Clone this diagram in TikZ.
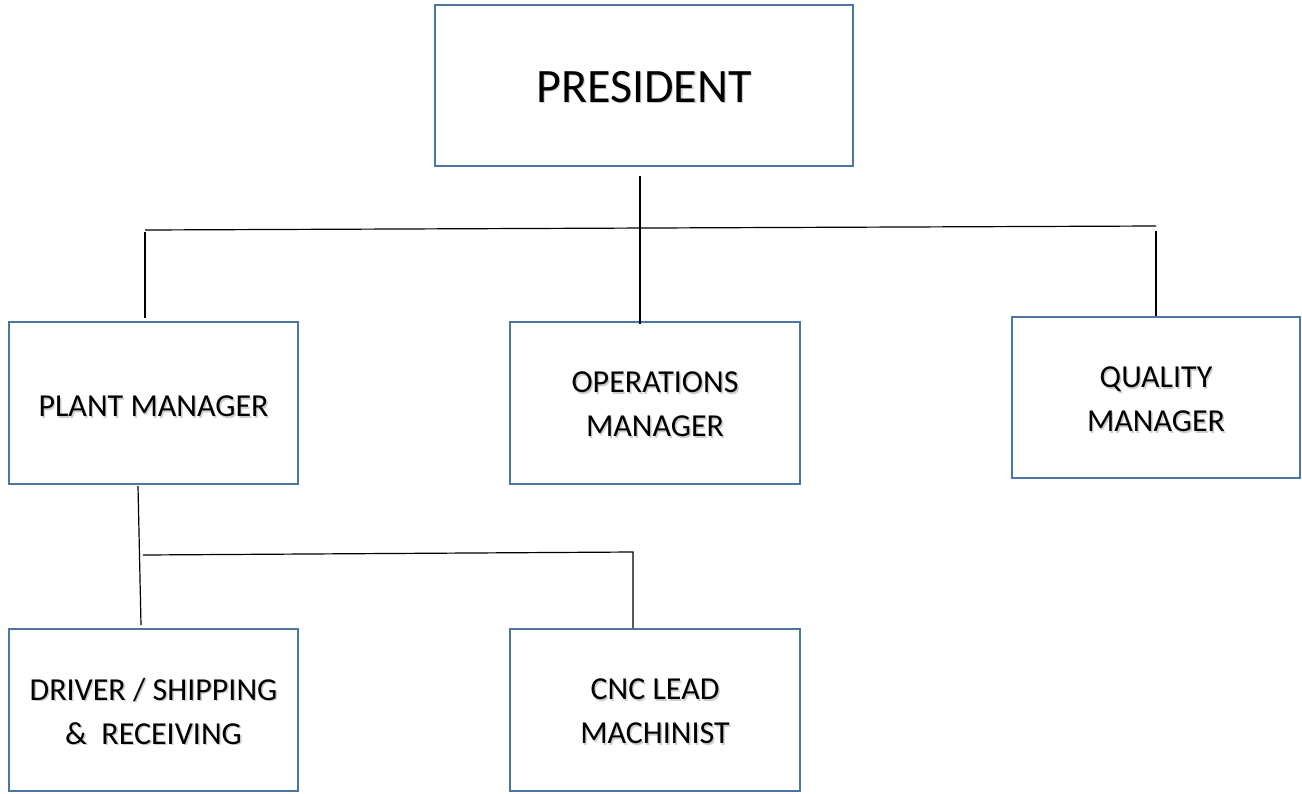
\documentclass[tikz,border=0pt]{standalone}
\usepackage{fontspec}
\setmainfont{Carlito}
\definecolor{boxblue}{RGB}{74,118,164}
\newcommand\shtext[2][1.6pt]{\raisebox{-#1}[\height][\depth]{\makebox[0pt][l]{\hspace{1.1pt}\raisebox{-1.1pt}{\color{black!20}#2}}#2}}
\begin{document}
\begin{tikzpicture}[x=0.75pt,y=-0.75pt,
  orgbox/.style={draw=boxblue,line width=2.1pt,inner sep=0pt,align=center,
    font=\fontsize{24}{33}\selectfont},
  link/.style={draw=black,line width=0.9pt}]
\useasboundingbox (0,0) rectangle (1302,793);
\node[orgbox,minimum width=313.5pt,minimum height=120.75pt,font=\fontsize{36}{42}\selectfont] (pres) at (644,85.5) {\shtext{PRESIDENT}};
\node[orgbox,minimum width=216.75pt,minimum height=121.5pt] (plant) at (153.5,403) {\shtext[3pt]{PLANT MANAGER}};
\node[orgbox,minimum width=217.5pt,minimum height=121.5pt] (ops) at (655,403) {\shtext{OPERATIONS}\\\shtext{MANAGER}};
\node[orgbox,minimum width=216pt,minimum height=120.75pt] (qual) at (1156,397.5) {\shtext[1.9pt]{QUALITY}\\\shtext[1.9pt]{MANAGER}};
\node[orgbox,minimum width=216.75pt,minimum height=121.5pt] (drv) at (153.5,710) {\shtext{DRIVER / SHIPPING}\\\shtext{\&\ \ RECEIVING}};
\node[orgbox,minimum width=217.5pt,minimum height=121.5pt] (cnc) at (655,710) {\shtext{CNC LEAD}\\\shtext{MACHINIST}};
% free ends
\coordinate (pdown) at (640,176);
\coordinate (opstop) at (640,324);
\coordinate (hl) at (145,230);
\coordinate (hr) at (1156,226);
\coordinate (lv1) at (145,232);
\coordinate (lv2) at (145,318);
\coordinate (rv1) at (1156,231);
\coordinate (rv2) at (1156,316);
\coordinate (pm1) at (138,486);
\coordinate (pm2) at (141,625);
\coordinate (bh1) at (143,555);
\coordinate (bh2) at (633,552);
\coordinate (cv2) at (633,628);
\draw[link] (pdown) -- (opstop);
\draw[link] (hl) -- (hr);
\draw[link] (lv1) -- (lv2);
\draw[link] (rv1) -- (rv2);
\draw[link] (pm1) -- (pm2);
\draw[link] (bh1) -- (bh2) -- (cv2);
\end{tikzpicture}
\end{document}
